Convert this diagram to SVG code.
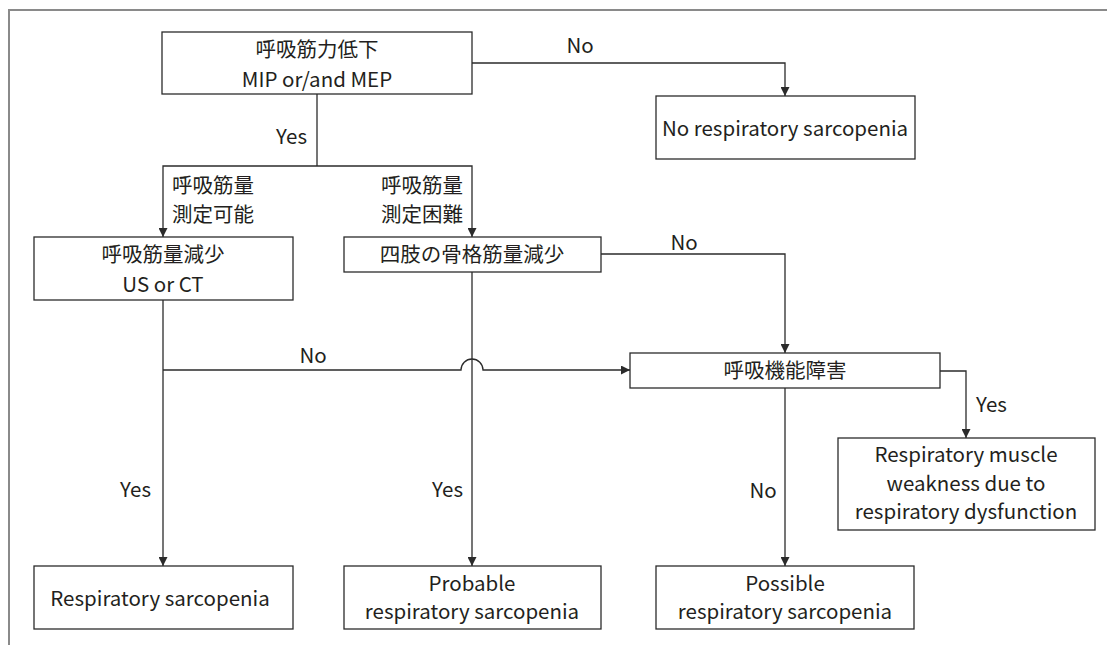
<svg xmlns="http://www.w3.org/2000/svg" width="1107" height="645" viewBox="0 0 1107 645">
<style>
.box{fill:#fff;stroke:#2b2b2b;stroke-width:1.3}
.ln{fill:none;stroke:#2b2b2b;stroke-width:1.3}
text{font-family:"Noto Sans CJK JP","Noto Sans CJK SC",sans-serif;font-size:20.5px;fill:#231f20}
.m{text-anchor:middle}
.e{text-anchor:end}
</style>
<defs>
<marker id="arr" viewBox="0 0 10 10" refX="10" refY="5" markerWidth="9" markerHeight="9" markerUnits="userSpaceOnUse" orient="auto">
<path d="M0,0 L10,5 L0,10 z" fill="#2b2b2b"/>
</marker>
</defs>
<rect width="1107" height="645" fill="#fff"/>
<path d="M9,645 V10 H1107" fill="none" stroke="#8a8a8a" stroke-width="2"/>

<g id="connectors">
<path class="ln" d="M472,63 H785 V96" marker-end="url(#arr)"/>
<path class="ln" d="M317,94 V166"/>
<path class="ln" d="M317,166 H163 V237" marker-end="url(#arr)"/>
<path class="ln" d="M317,166 H472 V237" marker-end="url(#arr)"/>
<path class="ln" d="M601,254 H785 V353" marker-end="url(#arr)"/>
<path class="ln" d="M163,300 V566" marker-end="url(#arr)"/>
<path class="ln" d="M163,370 H461 A11,11 0 0 1 483,370 H630" marker-end="url(#arr)"/>
<path class="ln" d="M472,272 V566" marker-end="url(#arr)"/>
<path class="ln" d="M785,388 V566" marker-end="url(#arr)"/>
<path class="ln" d="M940,371 H966 V438" marker-end="url(#arr)"/>
<text class="m" x="580" y="53">No</text>
<text class="e" x="307" y="144">Yes</text>
<text x="172" y="193">呼吸筋量</text>
<text x="172" y="222">測定可能</text>
<text class="e" x="463" y="193">呼吸筋量</text>
<text class="e" x="463" y="222">測定困難</text>
<text class="m" x="684" y="250">No</text>
<text class="m" x="313" y="363">No</text>
<text class="e" x="151" y="497">Yes</text>
<text class="e" x="463" y="497">Yes</text>
<text class="m" x="763" y="498">No</text>
<text x="976" y="412">Yes</text>
</g>

<g id="n-top">
<rect class="box" x="162" y="32" width="310" height="62"/>
<text class="m" x="317" y="57">呼吸筋力低下</text>
<text class="m" x="317" y="87">MIP or/and MEP</text>
</g>
<g id="n-nors">
<rect class="box" x="656" y="96" width="259" height="63"/>
<text class="m" x="785" y="136">No respiratory sarcopenia</text>
</g>
<g id="n-rmm">
<rect class="box" x="34" y="237" width="259" height="63"/>
<text class="m" x="163" y="262">呼吸筋量減少</text>
<text class="m" x="163" y="292">US or CT</text>
</g>
<g id="n-limb">
<rect class="box" x="344" y="237" width="257" height="35"/>
<text class="m" x="472" y="262">四肢の骨格筋量減少</text>
</g>
<g id="n-func">
<rect class="box" x="630" y="353" width="310" height="35"/>
<text class="m" x="785" y="378">呼吸機能障害</text>
</g>
<g id="n-weak">
<rect class="box" x="838" y="438" width="257" height="92"/>
<text class="m" x="966" y="462">Respiratory muscle</text>
<text class="m" x="966" y="491">weakness due to</text>
<text class="m" x="966" y="519">respiratory dysfunction</text>
</g>
<g id="n-rs">
<rect class="box" x="34" y="566" width="259" height="63"/>
<text class="m" x="160" y="606">Respiratory sarcopenia</text>
</g>
<g id="n-prob">
<rect class="box" x="344" y="566" width="257" height="63"/>
<text class="m" x="472" y="591">Probable</text>
<text class="m" x="472" y="619">respiratory sarcopenia</text>
</g>
<g id="n-poss">
<rect class="box" x="656" y="566" width="258" height="63"/>
<text class="m" x="785" y="591">Possible</text>
<text class="m" x="785" y="619">respiratory sarcopenia</text>
</g>
</svg>
